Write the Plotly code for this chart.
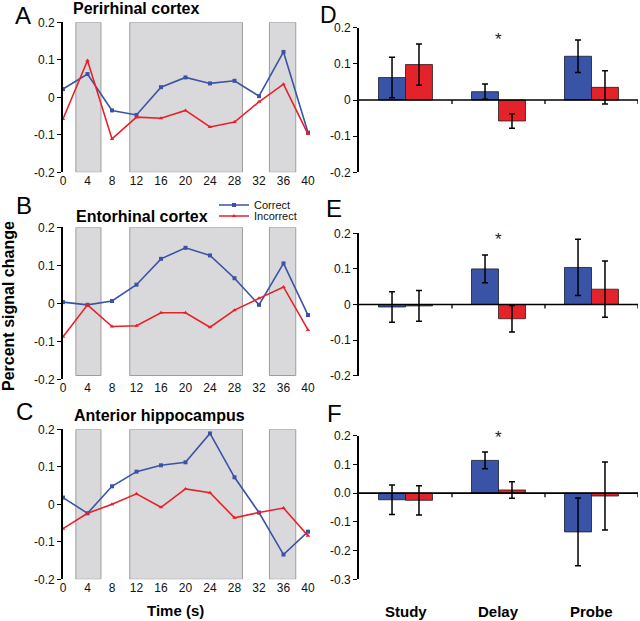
import plotly.graph_objects as go

# ---------------- data ----------------
time_s = [0, 4, 8, 12, 16, 20, 24, 28, 32, 36, 40]
time_ticks = [0, 4, 8, 12, 16, 20, 24, 28, 32, 36, 40]

peri_correct   = [0.022, 0.062, -0.035, -0.047, 0.027, 0.053, 0.037, 0.044, 0.003, 0.121, -0.094]
peri_incorrect = [-0.058, 0.098, -0.111, -0.053, -0.056, -0.035, -0.079, -0.066, -0.012, 0.035, -0.098]
ento_correct   = [0.003, -0.004, 0.006, 0.049, 0.117, 0.146, 0.126, 0.066, -0.004, 0.105, -0.031]
ento_incorrect = [-0.088, -0.004, -0.061, -0.059, -0.025, -0.025, -0.063, -0.018, 0.013, 0.043, -0.070]
hipp_correct   = [0.018, -0.024, 0.048, 0.087, 0.104, 0.112, 0.189, 0.072, -0.022, -0.134, -0.073]
hipp_incorrect = [-0.065, -0.024, 0.000, 0.028, -0.008, 0.041, 0.031, -0.036, -0.022, -0.010, -0.084]

# task periods (s): study, delay, probe
periods = [(2.1, 6.2), (10.9, 29.3), (33.7, 38.0)]
trial_window = [0, 30]

phases = ["Study", "Delay", "Probe"]
peri_bar_correct   = [0.062, 0.023, 0.121]
peri_err_correct   = [0.056, 0.021, 0.045]
peri_bar_incorrect = [0.098, -0.058, 0.035]
peri_err_incorrect = [0.057, 0.020, 0.046]
ento_bar_correct   = [-0.007, 0.100, 0.104]
ento_err_correct   = [0.043, 0.039, 0.079]
ento_bar_incorrect = [-0.004, -0.040, 0.043]
ento_err_incorrect = [0.043, 0.037, 0.079]
hipp_bar_correct   = [-0.023, 0.114, -0.135]
hipp_err_correct   = [0.051, 0.029, 0.118]
hipp_bar_incorrect = [-0.025, 0.011, -0.010]
hipp_err_incorrect = [0.051, 0.029, 0.118]

sig_phase = "Delay"
sig_y = [0.171, 0.186, 0.196]

left_yticks = [-0.2, -0.1, 0, 0.1, 0.2]
left_yticktext = ["-0.2", "-0.1", "0", "0.1", "0.2"]
f_yticks = [-0.3, -0.2, -0.1, 0.0, 0.1, 0.2]
f_yticktext = ["-0.3", "-0.2", "-0.1", "0.0", "0.1", "0.2"]

# ---------------- style ----------------
W, H = 640, 621
FONT = "Liberation Sans, Arial, Helvetica, sans-serif"
BLUE = "#3a53a4"
RED = "#e8202a"
BAR_BLUE = "#3953a6"
BAR_RED = "#e3222a"
SHADE = "#d9d9db"
SHADE_LINE = "#9d9d9d"


def px(p):
    return p / W


def py(p):
    return 1 - p / H


fig = go.Figure()

line_sets = [(peri_correct, peri_incorrect), (ento_correct, ento_incorrect), (hipp_correct, hipp_incorrect)]
for i, (c, inc) in enumerate(line_sets, start=1):
    fig.add_trace(go.Scatter(
        x=time_s, y=c, mode="lines+markers", name="Correct",
        line=dict(color=BLUE, width=1.6), marker=dict(symbol="square", size=4, color=BLUE),
        xaxis=f"x{i}", yaxis=f"y{i}", showlegend=(i == 1), legend="legend", cliponaxis=False))
    fig.add_trace(go.Scatter(
        x=time_s, y=inc, mode="lines+markers", name="Incorrect",
        line=dict(color=RED, width=1.6), marker=dict(symbol="triangle-up", size=4, color=RED),
        xaxis=f"x{i}", yaxis=f"y{i}", showlegend=(i == 1), legend="legend2", cliponaxis=False))

bar_sets = [
    (peri_bar_correct, peri_err_correct, peri_bar_incorrect, peri_err_incorrect),
    (ento_bar_correct, ento_err_correct, ento_bar_incorrect, ento_err_incorrect),
    (hipp_bar_correct, hipp_err_correct, hipp_bar_incorrect, hipp_err_incorrect),
]
for j, (bc, ec, bi, ei) in enumerate(bar_sets, start=4):
    fig.add_trace(go.Bar(
        x=phases, y=bc, error_y=dict(type="data", array=ec, color="black", thickness=1.5, width=3),
        marker=dict(color=BAR_BLUE, line=dict(color="#1a1a2a", width=0.8)),
        xaxis=f"x{j}", yaxis=f"y{j}", showlegend=False, name="Correct"))
    fig.add_trace(go.Bar(
        x=phases, y=bi, error_y=dict(type="data", array=ei, color="black", thickness=1.5, width=3),
        marker=dict(color=BAR_RED, line=dict(color="#2a1a1a", width=0.8)),
        xaxis=f"x{j}", yaxis=f"y{j}", showlegend=False, name="Incorrect"))

# ---------------- axes ----------------
left_x = [px(63), px(308)]
right_x = [px(359), px(638)]
left_y = [[py(172.3), py(22.3)], [py(379.3), py(227.3)], [py(579.3), py(429.3)]]
right_y = [[py(172.3), py(27.7)], [py(375.7), py(233.3)], [py(579.3), py(435.7)]]

yax_common = dict(showline=True, linecolor="black", linewidth=1.6, ticks="outside", ticklen=4,
                  tickwidth=1.3, tickcolor="black", showgrid=False, zeroline=False, automargin=False,
                  tickfont=dict(family=FONT, size=12, color="#111"))

layout_axes = {}
for i in range(1, 4):
    layout_axes[f"xaxis{i}"] = dict(domain=left_x, range=[0, 40], anchor=f"y{i}", showline=False,
                                    tickmode="array", tickvals=time_ticks, ticks="", showgrid=False,
                                    zeroline=False, automargin=False,
                                    tickfont=dict(family=FONT, size=12, color="#111"))
    layout_axes[f"yaxis{i}"] = dict(domain=left_y[i - 1], range=[-0.2, 0.2], anchor=f"x{i}",
                                    tickmode="array", tickvals=left_yticks, ticktext=left_yticktext,
                                    **yax_common)
for j in range(4, 7):
    layout_axes[f"xaxis{j}"] = dict(domain=right_x, range=[-0.5, 2.5], anchor=f"y{j}", type="category",
                                    showline=False, showticklabels=False, ticks="", showgrid=False,
                                    zeroline=False, automargin=False)
    if j < 6:
        layout_axes[f"yaxis{j}"] = dict(domain=right_y[j - 4], range=[-0.2, 0.2], anchor=f"x{j}",
                                        tickmode="array", tickvals=left_yticks, ticktext=left_yticktext,
                                        **yax_common)
    else:
        layout_axes[f"yaxis{j}"] = dict(domain=right_y[j - 4], range=[-0.3, 0.2], anchor=f"x{j}",
                                        tickmode="array", tickvals=f_yticks, ticktext=f_yticktext,
                                        **yax_common)
layout_axes["xaxis"] = layout_axes.pop("xaxis1")
layout_axes["yaxis"] = layout_axes.pop("yaxis1")
layout_axes["xaxis"]["anchor"] = "y"
layout_axes["yaxis"]["anchor"] = "x"

# ---------------- shapes ----------------
shapes = []
shade_bottoms = [-0.2, -0.19, -0.2]
for i in range(1, 4):
    xr = "x" if i == 1 else f"x{i}"
    yr = "y" if i == 1 else f"y{i}"
    for (a, b) in periods:
        shapes.append(dict(type="rect", xref=xr, yref=yr, x0=a, x1=b, y0=shade_bottoms[i - 1], y1=0.2,
                           fillcolor=SHADE, line=dict(color=SHADE_LINE, width=1), layer="below"))

# trial timeline under panel C
shapes.append(dict(type="line", xref="x3", yref="y3", x0=trial_window[0], x1=trial_window[1],
                   ysizemode="pixel", yanchor=-0.2, y0=-3.5, y1=-3.5,
                   line=dict(color="black", width=4.5)))
for t in trial_window:
    shapes.append(dict(type="rect", xref="x3", yref="y3", xsizemode="pixel", xanchor=t,
                       x0=-2.5, x1=2.5, ysizemode="pixel", yanchor=-0.2, y0=-6, y1=-1,
                       fillcolor="#2fd3d3", line=dict(color="#178a8a", width=0.6)))

# zero lines and category ticks on the bar panels
for j in range(4, 7):
    shapes.append(dict(type="line", xref=f"x{j}", yref=f"y{j}", x0=-0.5, x1=2.5, y0=0, y1=0,
                       line=dict(color="black", width=1.6), layer="above"))
    for tv in [0.5, 1.5, 2.5]:
        shapes.append(dict(type="line", xref=f"x{j}", yref=f"y{j}", x0=tv, x1=tv,
                           ysizemode="pixel", yanchor=0, y0=0, y1=-4,
                           line=dict(color="black", width=1.3)))

# ---------------- annotations ----------------
ann = []


def label(text, x, y, size, bold=False, **kw):
    t = f"<b>{text}</b>" if bold else text
    d = dict(text=t, x=px(x), y=py(y), xref="paper", yref="paper", showarrow=False,
             xanchor="center", yanchor="middle", font=dict(family=FONT, size=size, color="black"))
    d.update(kw)
    ann.append(d)


label("A", 23, 0, 24, yanchor="top")
label("D", 328, 0, 23, yanchor="top")
for letter, x, y in [("B", 23.5, 205), ("C", 24, 412), ("E", 334, 209), ("F", 334, 413)]:
    label(letter, x, y, 24)

label("Perirhinal cortex", 135.7, 9, 16, bold=True)
label("Entorhinal cortex", 141.7, 216, 16, bold=True)
label("Anterior hippocampus", 159.8, 415, 16, bold=True)
label("Percent signal change", 8.5, 306.5, 16, bold=True, textangle=-90)
label("Time (s)", 175.3, 610, 15, bold=True)

for ph in phases:
    ann.append(dict(text=f"<b>{ph}</b>", x=ph, xref="x6", y=py(611.5), yref="paper", showarrow=False,
                    xanchor="center", yanchor="middle", font=dict(family=FONT, size=15, color="black")))

for j, yv in zip(range(4, 7), sig_y):
    ann.append(dict(text="*", x=sig_phase, xref=f"x{j}", y=yv, yref=f"y{j}", showarrow=False,
                    xanchor="center", yanchor="middle", yshift=-1,
                    font=dict(family=FONT, size=17, color="#222")))

fig.update_layout(
    width=W, height=H, margin=dict(l=0, r=0, t=0, b=0, autoexpand=False),
    paper_bgcolor="white", plot_bgcolor="rgba(0,0,0,0)",
    barmode="group", bargap=0.42, bargroupgap=0,
    shapes=shapes, annotations=ann,
    font=dict(family=FONT, color="black"),
    legend=dict(x=px(214), y=py(205), xanchor="left", yanchor="middle", bgcolor="rgba(0,0,0,0)",
                font=dict(family=FONT, size=11, color="#111"), borderwidth=0),
    legend2=dict(x=px(214), y=py(216), xanchor="left", yanchor="middle", bgcolor="rgba(0,0,0,0)",
                 font=dict(family=FONT, size=11, color="#111"), borderwidth=0),
    **layout_axes,
)

fig.write_html("out.html", config={"displayModeBar": False},
               post_script="document.body.style.margin='0';")
